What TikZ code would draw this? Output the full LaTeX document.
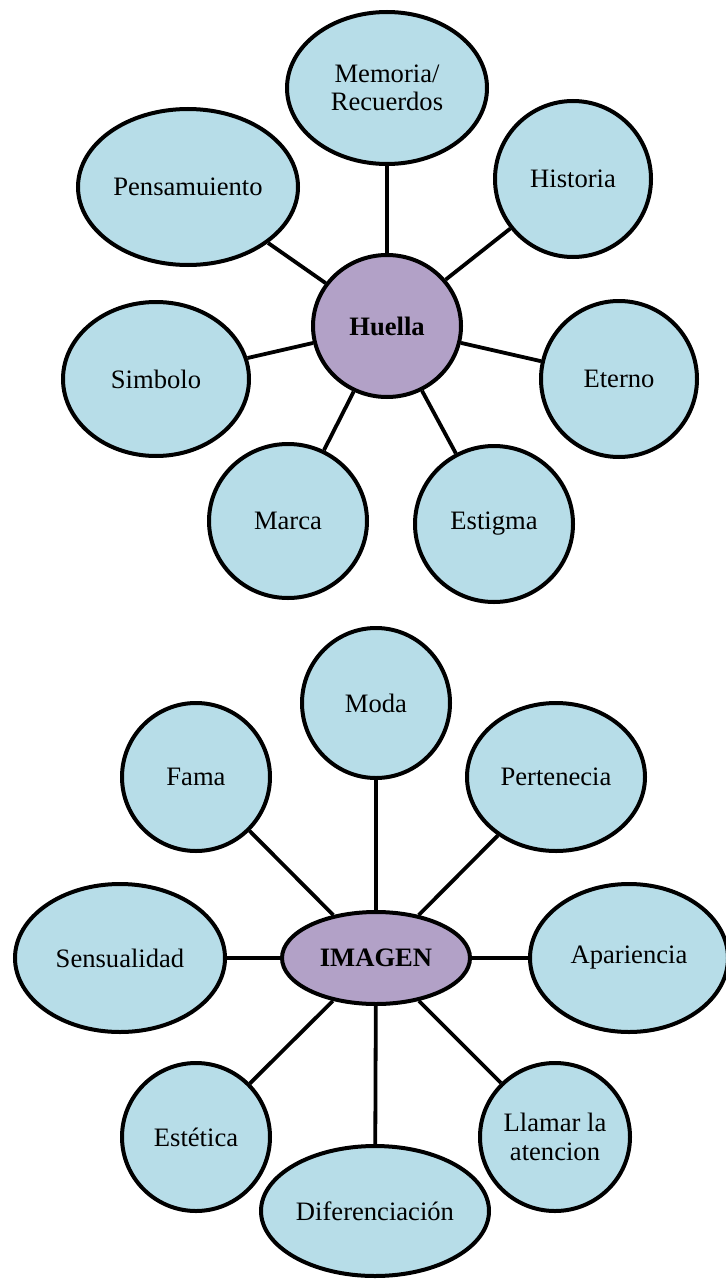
\documentclass[tikz,border=0pt]{standalone}
\usepackage{fontspec}
\setmainfont{Liberation Serif}
\usetikzlibrary{shapes.geometric}
\definecolor{bubblue}{HTML}{B7DDE8}
\definecolor{bubpurple}{HTML}{B2A1C7}
\tikzset{
  bub/.style={ellipse, draw=black, line width=2pt, fill=bubblue, inner sep=0pt,
    align=center, font=\fontsize{13.3}{14.2}\selectfont},
  hub/.style={bub, fill=bubpurple, font=\fontsize{13.3}{14.2}\selectfont\bfseries},
  link/.style={draw=black, line width=1.9pt}
}
\begin{document}
\begin{tikzpicture}[x=0.5pt,y=-0.5pt]
\useasboundingbox[fill=white] (0,0) rectangle (726,1279);
% --- Huella ---
\node[hub, minimum width=74pt, minimum height=71pt] (hue) at (387,326) {Huella};
\node[bub, minimum width=100pt, minimum height=76pt] (mem) at (387,88) {Memoria/\\Recuerdos};
\node[bub, minimum width=110pt, minimum height=78pt] (pen) at (188,187) {Pensamuiento};
\node[bub, minimum width=78pt, minimum height=78pt] (his) at (573,179) {Historia};
\node[bub, minimum width=93pt, minimum height=77pt] (sim) at (156,379) {Simbolo};
\node[bub, minimum width=78pt, minimum height=78pt] (ete) at (619,379) {Eterno};
\node[bub, minimum width=79pt, minimum height=77pt] (mar) at (288,521) {Marca};
\node[bub, minimum width=79pt, minimum height=78pt] (est) at (494,524) {Estigma};
\foreach \n in {mem,pen,his,sim,ete,mar,est} \draw[link] (hue) -- (\n);
% --- IMAGEN ---
\node[hub, minimum width=94pt, minimum height=46pt] (img) at (376,958) {IMAGEN};
\node[bub, minimum width=74pt, minimum height=75pt] (moda) at (376,703) {Moda};
\node[bub, minimum width=74pt, minimum height=74pt] (fama) at (196,777) {Fama};
\node[bub, minimum width=89pt, minimum height=74pt] (per) at (556,777) {Pertenecia};
\node[bub, minimum width=105pt, minimum height=74pt] (sen) at (120,958) {Sensualidad};
\node[bub, minimum width=99pt, minimum height=74pt] (apa) at (629,958) {Apariencia};
\node[bub, minimum width=74pt, minimum height=74pt] (ets) at (196,1137) {Estética};
\node[bub, minimum width=75pt, minimum height=74pt] (lla) at (555,1137) {Llamar la\\atencion};
\node[bub, minimum width=114pt, minimum height=65pt] (dif) at (375,1211) {Diferenciación};
\foreach \n in {moda,fama,per,sen,apa,ets,lla,dif} \draw[link] (img) -- (\n);
\end{tikzpicture}
\end{document}
